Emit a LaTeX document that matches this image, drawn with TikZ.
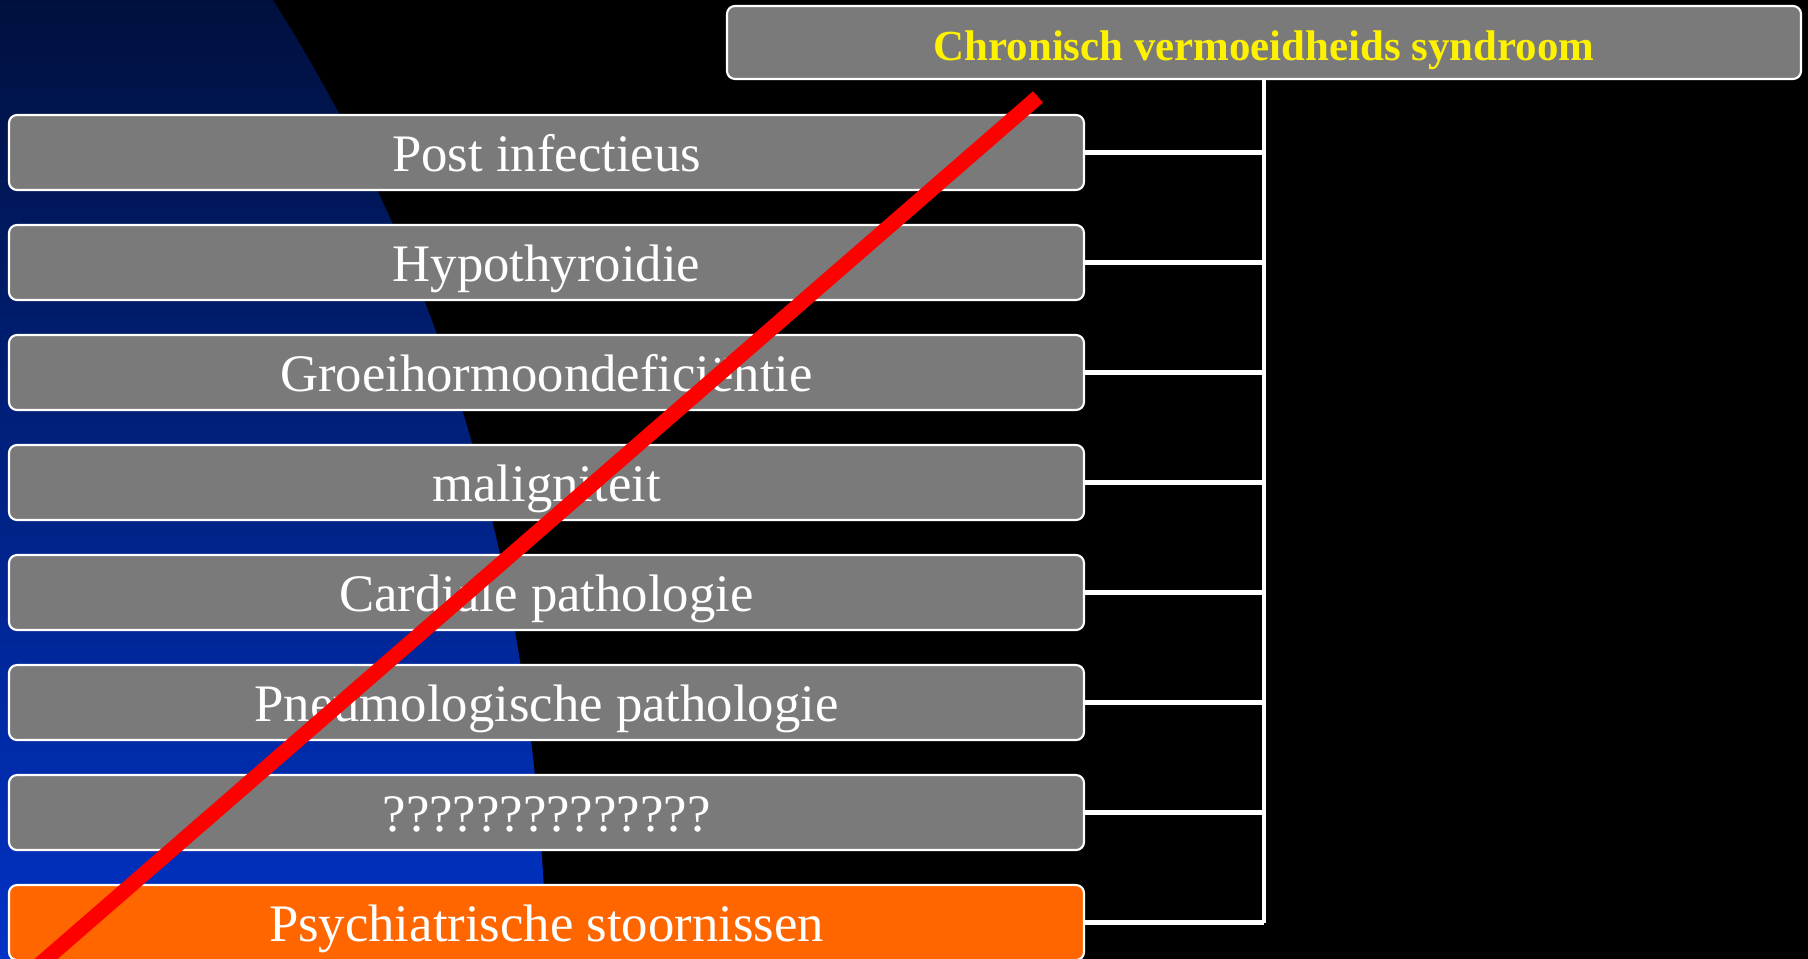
\documentclass[tikz,border=0pt]{standalone}
\usepackage{fontspec}
\setmainfont{Liberation Serif}
\usetikzlibrary{positioning}

\definecolor{boxgray}{RGB}{122,122,122}
\definecolor{psychorange}{RGB}{255,102,0}
\definecolor{navytop}{RGB}{0,16,62}
\definecolor{bluebottom}{RGB}{0,51,198}

\begin{document}
\begin{tikzpicture}[
    node distance=0.329cm,
    cause/.style={draw=white, line width=0.6pt, fill=boxgray, rounded corners=0.8mm,
        minimum width=10.75cm, minimum height=0.75cm, inner sep=0pt, text=white,
        font=\fontsize{15}{18}\selectfont, text height=14pt, text depth=3pt},
    title/.style={cause, minimum width=10.74cm, minimum height=0.73cm, text=yellow,
        font=\bfseries\fontsize{12.2}{14}\selectfont, text height=12pt, text depth=2pt},
    link/.style={draw=white, line width=1.4pt},
    strike/.style={draw=red, line width=4.3pt}
  ]
  \useasboundingbox (0,0) rectangle (18.08,9.59);
  % background
  \fill[black] (0,0) rectangle (18.08,9.59);
  \shade[top color=navytop, bottom color=bluebottom]
    (0,9.59) -- (2.73,9.59) .. controls (4.75,6.39) and (5.37,3.20) .. (5.47,0) -- (0,0) -- cycle;

  % boxes
  \node[title] (cvs) at (12.64,9.165) {Chronisch vermoeidheids syndroom};
  \node[cause] (post) at (5.465,8.065) {Post infectieus};
  \node[cause, below=of post] (hypo) {Hypothyroidie};
  \node[cause, below=of hypo] (groei) {Groeihormoondeficiëntie};
  \node[cause, below=of groei] (malig) {maligniteit};
  \node[cause, below=of malig] (cardio) {Cardiale pathologie};
  \node[cause, below=of cardio] (pneumo) {Pneumologische pathologie};
  \node[cause, below=of pneumo] (unknown) {??????????????};
  \node[cause, fill=psychorange, below=of unknown] (psych) {Psychiatrische stoornissen};

  % connectors
  \draw[link] (cvs.south) -- (cvs.south |- psych.east);
  \foreach \n in {post,hypo,groei,malig,cardio,pneumo,unknown,psych}
    \draw[link] (\n.east) -- (\n.east -| cvs.south);

  % strike-through
  \coordinate (strikeA) at (10.38,8.62);
  \coordinate (strikeB) at (0.103,-0.31);
  \draw[strike] (strikeA) -- (strikeB);
\end{tikzpicture}
\end{document}
